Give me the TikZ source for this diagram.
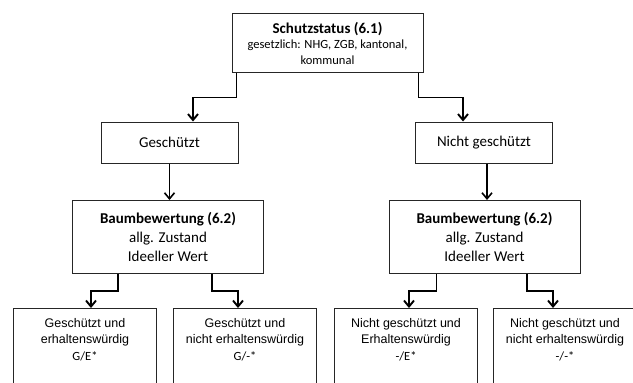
\documentclass[tikz,border=0pt]{standalone}
\usepackage{fontspec}
\setmainfont{Liberation Sans}
\newfontfamily\calib{Carlito}
\usetikzlibrary{positioning, arrows.meta, calc}

\begin{document}
\begin{tikzpicture}[
    x=1pt, y=-1pt, % pixel-like units, y grows downward
    box/.style={ % Style for the upper boxes
        rectangle,
        draw=black!85,
        line width=1pt,
        fill=white,
        align=center,
        inner sep=0pt
    },
    % Specific styles using the base 'box' style
    status/.style={box, minimum width=191pt, minimum height=59pt},
    branch/.style={box, minimum width=137pt, minimum height=41pt, font=\calib\fontsize{15}{18}\selectfont},
    rating/.style={box, minimum width=191pt, minimum height=73pt, font=\calib\fontsize{15}{19}\selectfont},
    leaf/.style={box, minimum width=143pt, minimum height=95pt, anchor=north},
    leaftext/.style={align=center, inner sep=0pt, font=\fontsize{12.5}{16.5}\selectfont},
    % Arrow style
    arrow/.style={
        -{Straight Barb[length=6pt,width=10pt]},
        line width=1.9pt,
        draw=black
    }
]
\useasboundingbox (0,0) rectangle (633,383);
\clip (0,0) rectangle (633,383);

% Legal status
\node[status] (status) at (327.5,42.5) {};
\node[align=center, inner sep=0pt, below=10pt of status.north,
      font=\calib\fontsize{12.5}{16}\selectfont] (status-t)
    {{\bfseries\fontsize{15}{17}\selectfont Schutzstatus (6.1)}\\[-1pt]
     gesetzlich: NHG, ZGB, kantonal,\\
     kommunal};

% Protected / not protected
\node[branch] (prot) at (169.5,142.5) {Geschützt};
\node[branch] (noprot) at (484,142.5) {Nicht geschützt};

% Tree assessment blocks
\node[rating] (rateL) at (168,237) {\textbf{Baumbewertung (6.2)}\\allg. Zustand\\Ideeller Wert};
\node[rating] (rateR) at (484.5,237) {\textbf{Baumbewertung (6.2)}\\allg. Zustand\\Ideeller Wert};

% Result blocks (cut off at the bottom)
\node[leaf] (ge) at (85,308) {};
\node[leaf] (gn) at (245,308) {};
\node[leaf] (ne) at (406,308) {};
\node[leaf] (nn) at (565,308) {};
\node[leaftext, below=10pt of ge.north] (ge-t) {Geschützt und\\erhaltenswürdig\\{\calib G/E*}};
\node[leaftext, below=10pt of gn.north] (gn-t) {Geschützt und\\nicht erhaltenswürdig\\{\calib G/-*}};
\node[leaftext, below=10pt of ne.north] (ne-t) {Nicht geschützt und\\Erhaltenswürdig\\{\calib -/E*}};
\node[leaftext, below=10pt of nn.north] (nn-t) {Nicht geschützt und\\nicht erhaltenswürdig\\{\calib -/-*}};

% Draw arrows
\draw[arrow] ([xshift=5pt]status.south west) -- ++(0,25) -| ([xshift=23.5pt]prot.north);
\draw[arrow] ([xshift=-5pt]status.south east) -- ++(0,25) -| ([xshift=-21pt]noprot.north);
\draw[arrow, line width=1.6pt] (prot.south) -- (prot.south |- rateL.north);
\draw[arrow, line width=1.6pt] ([xshift=3pt]noprot.south) -- ([xshift=3pt]noprot.south |- rateR.north);

\draw[arrow] ([xshift=-50pt]rateL.south) -- ++(0,17) -| ([xshift=6pt]ge.north);
\draw[arrow] ([xshift=44pt]rateL.south) -- ++(0,17) -| ([xshift=-7pt]gn.north);
\draw[arrow] ([xshift=-48pt]rateR.south) -- ++(0,17) -| ([xshift=3pt]ne.north);
\draw[arrow] ([xshift=42.5pt]rateR.south) -- ++(0,17) -| ([xshift=-12pt]nn.north);

\end{tikzpicture}
\end{document}
